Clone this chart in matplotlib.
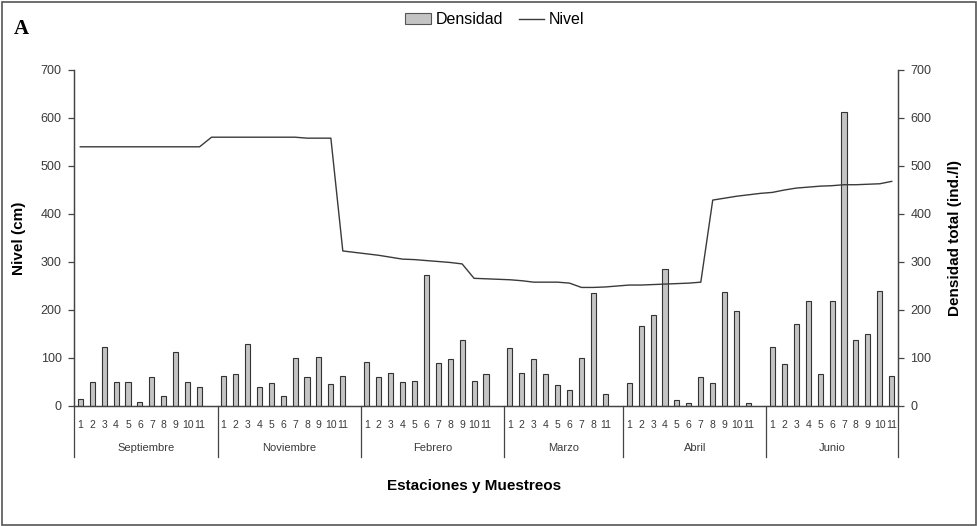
import numpy as np
import matplotlib.pyplot as plt
from matplotlib.patches import Rectangle, Patch
from matplotlib.lines import Line2D
import matplotlib.transforms as mtransforms

plt.rcParams['font.family'] = ['Liberation Sans', 'DejaVu Sans']

# Meses de muestreo y estaciones de cada mes
meses = ['Septiembre', 'Noviembre', 'Febrero', 'Marzo', 'Abril', 'Junio']
estaciones = [
    ['1', '2', '3', '4', '5', '6', '7', '8', '9', '10', '11'],
    ['1', '2', '3', '4', '5', '6', '7', '8', '9', '10', '11'],
    ['1', '2', '3', '4', '5', '6', '7', '8', '9', '10', '11'],
    ['1', '2', '3', '4', '5', '6', '7', '8', '11'],
    ['1', '2', '3', '4', '5', '6', '7', '8', '9', '10', '11'],
    ['1', '2', '3', '4', '5', '6', '7', '8', '9', '10', '11'],
]

# Densidad total (ind./l) por estacion
dens_sep = [15, 51, 123, 51, 50, 9, 60, 20, 113, 50, 40]
dens_nov = [62, 67, 130, 40, 48, 20, 101, 60, 103, 45, 62]
dens_feb = [91, 60, 69, 50, 53, 273, 90, 98, 138, 53, 67]
dens_mar = [121, 69, 98, 67, 43, 34, 101, 235, 25]
dens_abr = [48, 167, 189, 285, 13, 6, 60, 48, 237, 197, 6]
dens_jun = [123, 88, 171, 218, 67, 219, 613, 138, 149, 239, 62]
densidad = [dens_sep, dens_nov, dens_feb, dens_mar, dens_abr, dens_jun]

# Nivel (cm); el ultimo valor de cada mes es la fila vacia entre meses
niv_sep = [540, 540, 540, 540, 540, 540, 540, 540, 540, 540, 540, 560]
niv_nov = [560, 560, 560, 560, 560, 560, 560, 558, 558, 558, 323, 320]
niv_feb = [317, 314, 310, 306, 305, 303, 301, 299, 296, 266, 265, 264]
niv_mar = [263, 261, 258, 258, 258, 256, 247, 247, 248, 250]
niv_abr = [252, 252, 253, 254, 255, 256, 258, 429, 433, 437, 440, 443]
niv_jun = [445, 450, 454, 456, 458, 459, 461, 461, 462, 463, 468]
nivel = [niv_sep, niv_nov, niv_feb, niv_mar, niv_abr, niv_jun]

# posiciones: una ranura por estacion y una vacia entre meses
x_bar, y_bar, x_lin, y_lin, etiq_x, etiq, limites, centros = [], [], [], [], [], [], [], []
pos = 0
for m in range(len(meses)):
    inicio = pos
    for est, d in zip(estaciones[m], densidad[m]):
        x_bar.append(pos)
        y_bar.append(d)
        etiq_x.append(pos)
        etiq.append(est)
        pos += 1
    for k, v in enumerate(nivel[m]):
        x_lin.append(inicio + k)
        y_lin.append(v)
    if m < len(meses) - 1:
        pos += 1
    limites.append(pos - 0.5)
    centros.append((inicio - 0.5 + pos - 0.5) / 2)

fig = plt.figure(figsize=(9.78, 5.26), dpi=100)
ax = fig.add_axes([74.3 / 978, 1 - 406 / 526, (897.7 - 74.3) / 978, 336 / 526])
ax2 = ax.twinx()

gris = '#444444'
ax2.bar(x_bar, y_bar, width=0.42, color='#c4c4c4', edgecolor='#333333', linewidth=0.8)
ax.plot(x_lin, y_lin, color='#3a3a3a', linewidth=1.0)
ax.set_zorder(ax2.get_zorder() + 1)
ax.patch.set_visible(False)

for a in (ax, ax2):
    a.set_ylim(0, 700)
    a.set_yticks(range(0, 701, 100))
    a.set_xlim(-0.5, pos - 0.5)
    a.spines['top'].set_visible(False)
    for s in a.spines.values():
        s.set_color(gris)
        s.set_linewidth(0.9)
    a.tick_params(axis='y', length=4, width=0.9, color=gris, labelsize=9, labelcolor='#3a3a3a', pad=5)
ax.set_xticks([])
ax2.set_xticks([])

ax.set_ylabel('Nivel (cm)', fontsize=11, fontweight='bold', labelpad=11)
ax2.set_ylabel('Densidad total (ind./l)', fontsize=11, fontweight='bold', labelpad=12)

# etiquetas de categorias en dos niveles
trans = mtransforms.blended_transform_factory(ax.transData, ax.transAxes)
for xx, t in zip(etiq_x, etiq):
    ax.text(xx, -0.058, t, transform=trans, ha='center', va='center', fontsize=7.5, color='#3a3a3a')
for c, nom in zip(centros, meses):
    ax.text(c, -0.126, nom, transform=trans, ha='center', va='center', fontsize=8, color='#3a3a3a')
for b in [-0.5] + limites:
    ax.plot([b, b], [0, -0.152], transform=trans, color=gris, linewidth=0.9, clip_on=False)

fig.text(0.485, 0.076, 'Estaciones y Muestreos', ha='center', va='center', fontsize=11, fontweight='bold')
fig.text(0.014, 0.945, 'A', fontsize=15, fontweight='bold', family='Liberation Serif', va='center')

handles = [Patch(facecolor='#c4c4c4', edgecolor='#555555', linewidth=0.8, label='Densidad'),
           Line2D([], [], color='#3a3a3a', linewidth=1.0, label='Nivel')]
fig.legend(handles=handles, loc='center', bbox_to_anchor=(0.506, 0.962), ncol=2, frameon=False,
           fontsize=11.5, handlelength=1.6, columnspacing=1.0, handletextpad=0.3)

fig.patches.append(Rectangle((0.002, 0.002), 0.996, 0.995, transform=fig.transFigure,
                             fill=False, edgecolor='#555555', linewidth=1.2))

fig.savefig('out.png', dpi=100)
